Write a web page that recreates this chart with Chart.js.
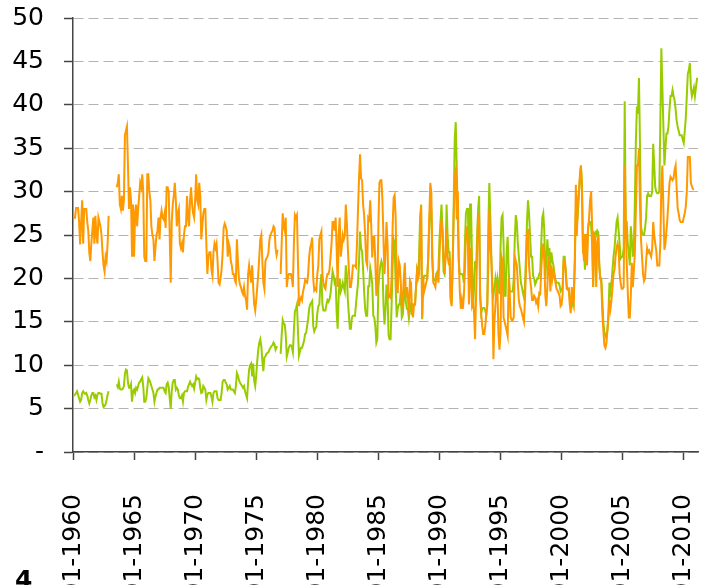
<!DOCTYPE html>
<html>
<head>
<meta charset="utf-8">
<script src="https://cdn.jsdelivr.net/npm/chart.js@4.4.1/dist/chart.umd.min.js"></script>
<style>
  body { margin: 0; background: #fff; overflow: hidden; }
  #wrap { position: relative; width: 702px; height: 585px; }
  #note { position: absolute; left: 15px; top: 567px; font: bold 25px "DejaVu Sans"; line-height: 25px; color: #000; }
</style>
</head>
<body>
<div id="wrap">
  <canvas id="chart" width="702" height="585"></canvas>
  <div id="note">4</div>
</div>
<script>
// monthly values, one row per year, starting 01-1960
var startYear = 1960;
var tickEvery = 60;

var seriesOrange = [
  27.0, 27.0, 27.0, 28.1, 28.1, 28.1, 26.5, 23.9, 26.5, 29.0, 24.0, 28.0,
  28.0, 28.0, 26.5, 25.5, 23.0, 22.0, 24.0, 25.5, 27.0, 24.0, 27.2, 25.0,
  24.0, 27.0, 26.5, 26.0, 25.0, 23.0, 21.5, 20.8, 22.5, 22.0, 24.0, 27.2,
  null, null, null, null, null, null, null, 30.5, 31.0, 32.0, 28.5, 28.0,
  29.5, 27.8, 29.0, 36.5, 37.0, 37.5, 33.0, 28.0, 30.5, 29.0, 22.5, 28.5,
  22.5, 27.5, 28.5, 26.0, 28.0, 29.5, 31.0, 30.5, 32.0, 30.0, 22.5, 22.0,
  22.0, 32.0, 32.0, 30.0, 29.0, 26.0, 25.0, 24.5, 22.0, 23.5, 25.0, 25.5,
  27.0, 24.5, 27.0, 27.8, 27.0, 26.8, 27.5, 25.8, 30.5, 30.5, 30.0, 25.0,
  19.5, 26.5, 28.5, 29.5, 31.0, 29.0, 26.0, 27.5, 28.0, 24.0, 23.5, 24.0,
  23.0, 25.0, 26.0, 26.0, 29.5, 27.0, 26.0, 29.0, 30.5, 28.5, 27.5, 27.0,
  29.0, 32.0, 29.0, 28.5, 31.0, 29.5, 24.5, 26.0, 27.5, 28.0, 28.0, 24.0,
  20.5, 22.5, 23.0, 23.0, 21.0, 20.3, 23.0, 24.0, 23.5, 24.0, 22.0, 19.5,
  19.3, 20.0, 21.0, 23.0, 25.8, 26.3, 26.0, 25.5, 22.5, 24.0, 23.5, 22.0,
  21.5, 20.5, 20.5, 19.8, 19.5, 24.5, 22.0, 20.0, 19.3, 19.0, 18.5, 18.2,
  19.0, 18.0, 17.5, 16.4, 20.5, 21.5, 20.5, 19.5, 21.5, 19.0, 17.0, 16.3,
  17.5, 19.0, 20.5, 22.5, 24.5, 25.0, 22.0, 19.5, 18.8, 22.0, 22.3, 22.5,
  23.0, 24.5, 25.0, 25.3, 25.5, 26.0, 25.8, 23.5, 22.7, 23.3, null, null,
  20.5, 24.0, 27.5, 26.0, 25.5, 27.0, 19.0, 20.0, 20.5, 20.5, 20.5, 20.0,
  19.0, 24.0, 27.3, 27.0, 27.3, 22.0, 16.8, 17.5, 17.8, 17.5, 18.5, 19.0,
  19.8, 19.6, 19.5, 20.5, 22.5, 23.5, 24.0, 24.7, 20.0, 18.6, 18.8, 18.6,
  20.5, 21.5, 24.5, 25.0, 25.4, 20.5, 19.5, 19.0, 18.8, 20.0, 20.5, 20.5,
  21.0, 22.5, 24.0, 26.5, 26.5, 25.5, 27.0, 23.5, 19.0, 25.0, 27.0, 22.5,
  23.5, 25.0, 24.5, 25.0, 28.5, 26.5, 23.5, 21.0, 19.0, 19.0, 20.0, 21.5,
  21.5, 21.5, 21.3, 24.0, 28.0, 31.5, 34.3, 31.5, 31.3, 28.5, 27.3, 25.0,
  22.0, 21.5, 27.0, 26.8, 29.0, 26.0, 22.4, 24.8, 24.8, 22.0, 18.0, 19.0,
  26.0, 31.0, 31.3, 31.3, 29.0, 24.5, 20.5, 23.0, 26.5, 24.0, 17.8, 18.0,
  17.8, 20.0, 26.0, 29.3, 29.6, 27.0, 19.0, 18.3, 22.0, 21.5, 19.5, 16.8,
  17.5, 20.0, 21.8, 17.8, 19.0, 17.8, 15.8, 19.8, 19.5, 16.5, 15.5, 17.0,
  17.0, 19.0, 20.8, 20.0, 20.5, 25.0, 28.3, 15.5, 20.0, 18.5, 19.0, 19.5,
  20.0, 22.5, 27.0, 31.0, 30.0, 22.5, 19.5, 19.3, 19.0, 20.5, 20.5, 19.5,
  22.5, 25.5, 26.8, 25.5, 22.5, 20.5, 22.5, 25.6, 22.5, 21.8, 22.0, 17.5,
  16.8, 21.5, 27.0, 32.0, 32.5, 26.8, 30.0, 22.0, 18.5, 16.5, 17.5, 16.5,
  18.0, 21.0, 25.0, 26.0, 24.0, 17.0, 20.0, 23.5, 17.0, 17.5, 16.0, 13.0,
  18.0, 23.0, 27.3, 27.0, 18.0, 16.0, 14.5, 13.6, 13.6, 14.5, 16.0, 17.0,
  21.5, 28.0, 24.0, 22.0, 19.0, 10.7, 15.0, 17.0, 19.0, 18.5, 13.5, 11.8,
  13.8, 22.5, 22.0, 15.5, 15.0, 14.5, 14.0, 13.4, 20.0, 18.5, 15.5, 15.2,
  15.2, 15.5, 22.5, 22.0, 21.5, 19.5, 17.5, 16.8, 16.5, 16.0, 15.5, 15.0,
  17.5, 21.0, 25.0, 25.7, 21.5, 20.0, 19.0, 17.5, 17.5, 18.0, 17.8, 17.2,
  17.5, 16.8, 18.3, 18.2, 21.0, 23.0, 24.0, 22.0, 18.0, 16.8, 19.0, 22.5,
  21.5, 18.5, 21.5, 20.0, 20.8, 20.3, 19.5, 18.8, 18.6, 18.3, 18.0, 16.8,
  17.0, 18.2, 22.0, 22.0, 21.0, 18.8, 18.7, 18.8, 17.0, 16.0, 19.0, 17.6,
  17.0, 22.4, 30.8, 25.0, 29.0, 30.0, 32.0, 33.0, 30.0, 23.5, 22.0, 25.0,
  25.0, 21.5, 25.5, 27.0, 29.0, 30.0, 26.0, 19.0, 25.0, 24.7, 19.0, 24.0,
  25.0, 21.2, 20.0, 19.5, 16.0, 14.0, 12.3, 12.0, 12.5, 14.0, 15.5, 17.5,
  16.5, 17.5, 19.0, 20.5, 21.0, 22.5, 23.5, 24.0, 23.5, 20.5, 19.5, 18.8,
  18.8, 19.0, 33.0, 26.5, 21.8, 18.5, 15.5, 15.5, 18.0, 21.8, 19.0, 21.0,
  23.0, 28.0, 33.0, 33.0, 35.0, 28.5, 24.5, 22.5, 20.5, 19.7, 20.0, 22.0,
  23.5, 23.0, 23.2, 22.8, 22.5, 23.5, 26.5, 25.0, 24.0, 23.2, 21.5, 21.5,
  21.5, 24.0, 31.0, 33.0, 28.0, 23.3, 24.0, 25.5, 27.0, 29.0, 31.0, 31.7,
  31.5, 31.3, 31.5, 32.5, 33.0, 30.5, 28.1, 27.5, 26.7, 26.5, 26.5, 26.5,
  27.0, 27.5, 28.3, 30.0, 34.0, 34.0, 34.0, 31.0, 30.6, 30.3, 30.2, null,
  null, null, null
];

var seriesGreen = [
  6.5, 6.5, 6.6, 6.8, 7.0, 6.6, 6.2, 5.8, 6.0, 6.8, 7.0, 6.8,
  6.7, 6.8, 6.5, 6.0, 5.6, 6.0, 6.5, 6.8, 6.8, 6.3, 6.5, 6.0,
  6.6, 6.8, 6.8, 6.7, 6.7, 5.6, 5.2, 5.3, 5.5, 6.0, 6.6, 7.0,
  null, null, null, null, null, null, null, 7.8, 7.5, 8.1, 7.3, 7.2,
  7.2, 7.3, 7.6, 9.0, 9.5, 9.4, 8.0, 7.4, 7.4, 7.8, 5.8, 7.0,
  7.2, 6.8, 7.4, 7.2, 7.6, 8.0, 8.1, 8.4, 8.6, 7.6, 5.8, 5.8,
  6.2, 7.4, 8.5, 8.3, 8.0, 7.6, 7.2, 6.8, 5.8, 6.4, 6.8, 7.2,
  7.2, 7.4, 7.4, 7.4, 7.4, 7.4, 7.0, 6.8, 7.8, 8.0, 7.5, 6.2,
  5.0, 7.0, 8.0, 8.3, 8.3, 7.2, 7.4, 7.2, 6.5, 6.2, 6.2, 6.5,
  5.8, 6.8, 7.0, 7.0, 7.0, 7.5, 7.8, 8.1, 7.8, 7.6, 7.8, 7.3,
  8.0, 8.7, 8.4, 8.5, 8.4, 7.4, 6.8, 6.9, 7.6, 7.4, 7.2, 6.0,
  6.6, 6.8, 6.8, 6.8, 6.4, 5.8, 6.8, 7.0, 7.0, 7.0, 6.2, 6.0,
  6.0, 6.0, 6.8, 8.1, 8.3, 8.3, 8.0, 7.8, 7.2, 7.4, 7.6, 7.2,
  7.2, 7.2, 7.0, 6.8, 7.6, 9.1, 8.8, 8.3, 8.0, 7.8, 7.6, 7.4,
  7.6, 7.0, 6.6, 6.2, 8.0, 9.5, 10.0, 10.2, 8.7, 10.2, 8.2, 7.6,
  8.8, 10.5, 11.8, 12.6, 13.0, 12.2, 10.5, 9.3, 10.9, 11.0, 11.3, 11.4,
  11.5, 11.8, 12.0, 12.2, 12.3, 12.6, 12.4, 11.8, 12.1, 12.1, null, null,
  11.3, 13.5, 15.2, 14.8, 14.7, 13.5, 11.0, 11.5, 12.0, 12.3, 12.3, 12.1,
  11.5, 14.0, 16.2, 16.5, 17.0, 14.0, 11.1, 11.6, 12.0, 12.0, 12.4, 12.8,
  13.6, 13.7, 14.5, 15.3, 16.5, 17.0, 17.2, 17.4, 14.5, 13.9, 14.2, 14.4,
  16.0, 16.8, 17.0, 19.3, 20.5, 17.0, 16.3, 16.3, 16.3, 17.0, 17.5, 17.3,
  17.6, 18.2, 19.5, 20.8, 20.3, 19.5, 19.8, 16.0, 14.2, 18.0, 20.0, 18.5,
  18.9, 19.5, 19.0, 18.5, 21.5, 20.5, 17.5, 15.8, 14.2, 14.2, 15.5, 15.7,
  15.7, 15.7, 17.0, 18.3, 19.5, 22.0, 25.4, 23.5, 23.1, 21.0, 18.5, 16.5,
  15.7, 15.7, 19.1, 19.1, 21.2, 20.5, 19.3, 15.7, 15.5, 14.5, 12.6, 13.0,
  19.0, 20.5, 21.5, 22.0, 21.5, 17.0, 14.7, 16.5, 19.3, 18.0, 13.5, 13.0,
  13.0, 17.0, 21.5, 24.5, 24.0, 19.0, 15.5, 16.5, 17.0, 17.0, 18.5, 15.5,
  15.8, 17.8, 19.0, 17.3, 16.5, 16.5, 15.4, 16.5, 17.0, 15.8, 17.0, 17.0,
  17.0, 19.0, 21.0, 20.5, 22.5, 27.0, 28.5, 15.3, 19.8, 20.3, 20.3, 20.3,
  20.1, 22.5, 26.3, 28.5, 28.0, 22.0, 19.8, 19.8, 19.8, 20.5, 20.8, 21.0,
  24.5, 26.5, 28.5, 25.5, 20.8, 20.5, 22.7, 28.5, 25.0, 23.0, 23.0, 17.8,
  17.5, 22.0, 28.5, 36.0, 38.0, 32.7, 27.0, 22.0, 20.5, 20.5, 20.5, 20.3,
  19.5, 24.0, 27.5, 28.0, 28.0, 19.3, 28.5, 28.5, 22.0, 16.5, 19.0, 22.0,
  21.0, 25.0, 28.0, 29.5, 18.0, 16.0, 16.5, 16.6, 16.6, 16.3, 15.8, 17.0,
  26.0, 31.0, 27.0, 22.5, 18.5, 18.0, 19.0, 20.0, 19.0, 20.0, 19.0, 18.2,
  23.5, 27.0, 27.3, 24.0, 18.0, 18.0, 23.0, 24.8, 21.0, 18.5, 18.5, 18.5,
  18.5, 20.0, 24.5, 27.3, 26.5, 24.0, 22.5, 21.0, 19.5, 19.0, 18.3, 17.8,
  19.0, 22.5, 26.5, 29.0, 27.5, 25.0, 22.5, 22.5, 20.3, 20.0, 19.3, 19.6,
  20.0, 20.0, 20.5, 20.7, 24.0, 27.0, 27.5, 25.5, 20.0, 22.0, 24.5, 22.5,
  23.5, 21.5, 23.0, 22.0, 21.5, 20.5, 19.8, 19.5, 19.5, 19.5, 19.2, 18.5,
  18.7, 19.0, 22.5, 22.5, 21.0, 19.2, 18.8, 18.8, 17.8, 17.2, 17.6, 17.0,
  18.5, 21.7, 27.8, 26.0, 27.5, 29.5, 31.5, 33.0, 31.0, 23.0, 22.8, 21.0,
  24.5, 23.0, 26.0, 26.5, 26.5, 26.0, 24.0, 19.0, 25.0, 25.3, 25.0, 25.5,
  25.3, 21.8, 20.0, 20.0, 17.5, 15.0, 13.8, 13.3, 13.6, 14.0, 16.0, 19.5,
  18.5, 19.5, 21.0, 22.5, 23.5, 25.0, 26.5, 27.0, 25.5, 24.0, 22.3, 22.5,
  22.5, 23.5, 40.4, 26.5, 26.5, 24.0, 23.0, 21.5, 26.0, 24.5, 22.5, 23.5,
  29.0, 36.0, 39.8, 39.0, 43.1, 35.5, 26.0, 25.3, 25.0, 25.0, 25.8, 27.0,
  29.5, 29.8, 29.5, 29.5, 29.5, 30.0, 35.5, 33.0, 30.5, 30.0, 29.8, 29.8,
  30.0, 38.0, 46.5, 42.0, 37.5, 33.0, 35.0, 36.7, 36.7, 37.5, 39.5, 41.0,
  41.0, 41.7, 41.0, 40.5, 39.5, 38.2, 37.5, 37.0, 36.5, 36.5, 36.5, 36.0,
  35.6, 37.0, 38.5, 41.0, 43.6, 44.0, 44.8, 42.0, 41.0, 41.5, 42.0, 41.0,
  42.0, 43.0, 43.0
];

// category labels "MM-YYYY"
var months = [];
for (var i = 0; i < seriesGreen.length; i++) {
  var mm = (i % 12) + 1;
  months.push((mm < 10 ? '0' : '') + mm + '-' + (startYear + Math.floor(i / 12)));
}

var axisColor = '#444444';
var labelFont = { family: 'DejaVu Sans', size: 25 };

var ctx = document.getElementById('chart');
var chart = new Chart(ctx, {
  type: 'line',
  data: {
    labels: months,
    datasets: [
      {
        label: 'orange',
        data: seriesOrange,
        borderColor: '#FF9900',
        borderWidth: 2,
        pointRadius: 0,
        tension: 0,
        spanGaps: false
      },
      {
        label: 'green',
        data: seriesGreen,
        borderColor: '#99CC00',
        borderWidth: 2,
        pointRadius: 0,
        tension: 0,
        spanGaps: false
      }
    ]
  },
  options: {
    responsive: false,
    animation: false,
    events: [],
    layout: { padding: { left: 0, top: 18, right: 4, bottom: 0 } },
    plugins: { legend: { display: false }, tooltip: { enabled: false } },
    scales: {
      x: {
        type: 'category',
        afterFit: function(scale) {
          scale.height = 133;
          scale.paddingLeft = 0;
          scale.paddingRight = 0;
        },
        grid: {
          drawOnChartArea: false,
          drawTicks: true,
          tickLength: 8,
          tickWidth: 1.5,
          tickColor: function(c) { return c.index % tickEvery === 0 ? axisColor : 'rgba(0,0,0,0)'; }
        },
        border: { display: true, color: axisColor, width: 1.5 },
        ticks: {
          autoSkip: false,
          minRotation: 90,
          maxRotation: 90,
          padding: 34,
          color: '#000',
          font: labelFont,
          callback: function(v, i) { return i % tickEvery === 0 ? this.getLabelForValue(v) : ''; }
        }
      },
      y: {
        min: 0,
        max: 50,
        afterFit: function(scale) {
          scale.width = 73;
          scale.paddingTop = 0;
          scale.paddingBottom = 0;
        },
        grid: {
          color: '#b3b3b3',
          lineWidth: 1,
          tickLength: 9,
          tickWidth: 1.5,
          tickColor: axisColor,
          tickBorderDash: []
        },
        border: { display: true, color: axisColor, width: 1.5, dash: [10, 5] },
        ticks: {
          stepSize: 5,
          padding: 20,
          color: '#000',
          font: labelFont,
          callback: function(v) { return v === 0 ? '-' : v; }
        }
      }
    }
  }
});
</script>
</body>
</html>
